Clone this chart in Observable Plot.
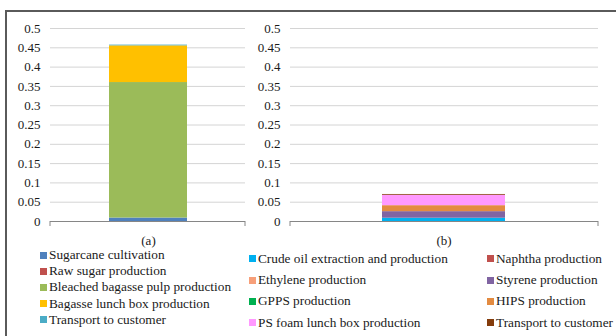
<!DOCTYPE html>
<html>
<head>
<meta charset="utf-8">
<script src="https://cdn.jsdelivr.net/npm/d3@7"></script>
<script src="https://cdn.jsdelivr.net/npm/@observablehq/plot@0.6"></script>
<style>
  body { margin: 0; background: #fff; }
  #fig { position: relative; width: 616px; height: 336px; overflow: hidden; background: #fff;
         font-family: "Liberation Serif", "DejaVu Serif", serif; color: #1a1a1a; }
  #fig svg text { font-family: "Liberation Serif", "DejaVu Serif", serif; }
  #border { position: absolute; left: 5px; top: 10px; width: 800px; height: 600px;
            border-left: 2px solid #5a5a5a; border-top: 2px solid #5a5a5a; }
  .chart { position: absolute; top: 0; }
  .legend { position: absolute; font-size: 13.3px; white-space: nowrap; }
  .legend .item { display: flex; align-items: center; }
  .legend .sw { width: 7px; height: 7px; margin-right: 2px; flex: none; }
  #legA { left: 40px; top: 247px; }
  #legA .item { height: 16.2px; }
  #legB { left: 249px; top: 248px; display: grid; grid-template-columns: 238px auto; }
  #legB .item { height: 21.4px; }
</style>
</head>
<body>
<div id="fig">
  <div id="border"></div>
  <div id="chartA" class="chart" style="left:0px"></div>
  <div id="chartB" class="chart" style="left:245px"></div>
  <div id="legA" class="legend"></div>
  <div id="legB" class="legend"></div>
</div>
<script>
// Shared value axis (0 to 0.5 in steps of 0.05)
const yTicks = [0, 0.05, 0.1, 0.15, 0.2, 0.25, 0.3, 0.35, 0.4, 0.45, 0.5];

// (a) bagasse lunch box life-cycle stages
const stagesA = ["Sugarcane cultivation", "Raw sugar production", "Bleached bagasse pulp production",
                 "Bagasse lunch box production", "Transport to customer"];
const valuesA = [0.009, 0.0, 0.351, 0.095, 0.002];
const colorsA = ["#4f81bd", "#c0504d", "#9bbb59", "#ffc000", "#4bacc6"];

// (b) PS foam lunch box life-cycle stages
const stagesB = ["Crude oil extraction and production", "Naphtha production", "Ethylene production",
                 "Styrene  production", "GPPS  production", "HIPS  production",
                 "PS foam lunch box production", "Transport to customer "];
const valuesB = [0.0085, 0.0, 0.0, 0.017, 0.0, 0.0155, 0.027, 0.002];
const colorsB = ["#00b0f0", "#c0504d", "#f79f79", "#8064a2", "#00b050", "#e38b41", "#ff99ff", "#843c0c"];

// Legend order for (b): two columns, read row by row
const legendOrderB = [0, 1, 2, 3, 4, 5, 6, 7];

// Short tick marks at both ends of the category axis
function axisEnds(index, scales, values, dims) {
  const g = d3.create("svg:g").attr("stroke", "#868686");
  const y0 = scales.y(0);
  for (const x of [dims.marginLeft, dims.width - dims.marginRight]) {
    g.append("line").attr("x1", x).attr("x2", x).attr("y1", y0).attr("y2", y0 + 5);
  }
  return g.node();
}

function chart(label, stages, values, colors, width, marginLeft, marginRight) {
  const rows = stages.map((s, i) => ({panel: label, stage: s, value: values[i]}));
  return Plot.plot({
    width, height: 251,
    marginLeft, marginRight, marginTop: 28, marginBottom: 30,
    style: {fontFamily: "'Liberation Serif', 'DejaVu Serif', serif", fontSize: "13px", color: "#1a1a1a", background: "transparent"},
    x: {domain: [label], paddingInner: 0.6, paddingOuter: 0.3, label: null},
    y: {domain: [0, 0.5], label: null},
    color: {domain: stages, range: colors},
    marks: [
      Plot.gridY(yTicks, {stroke: "#d4d4d4", strokeOpacity: 1}),
      Plot.axisY(yTicks, {tickSize: 0, tickPadding: 10, tickFormat: d => String(d), label: null}),
      Plot.barY(rows, {x: "panel", y: "value", fill: "stage", inset: 0}),
      Plot.ruleY([0], {stroke: "#868686"}),
      axisEnds,
      Plot.axisX({tickSize: 0, tickPadding: 14, label: null})
    ]
  });
}

document.getElementById("chartA").append(chart("(a)", stagesA, valuesA, colorsA, 250, 50, 5));
document.getElementById("chartB").append(chart("(b)", stagesB, valuesB, colorsB, 371, 45, 18));

function legend(el, stages, colors, order) {
  for (const i of order) {
    const item = document.createElement("div");
    item.className = "item";
    const sw = document.createElement("span");
    sw.className = "sw";
    sw.style.background = colors[i];
    const t = document.createElement("span");
    t.textContent = stages[i];
    item.append(sw, t);
    el.append(item);
  }
}
legend(document.getElementById("legA"), stagesA, colorsA, [0, 1, 2, 3, 4]);
legend(document.getElementById("legB"), stagesB, colorsB, legendOrderB);
</script>
</body>
</html>
